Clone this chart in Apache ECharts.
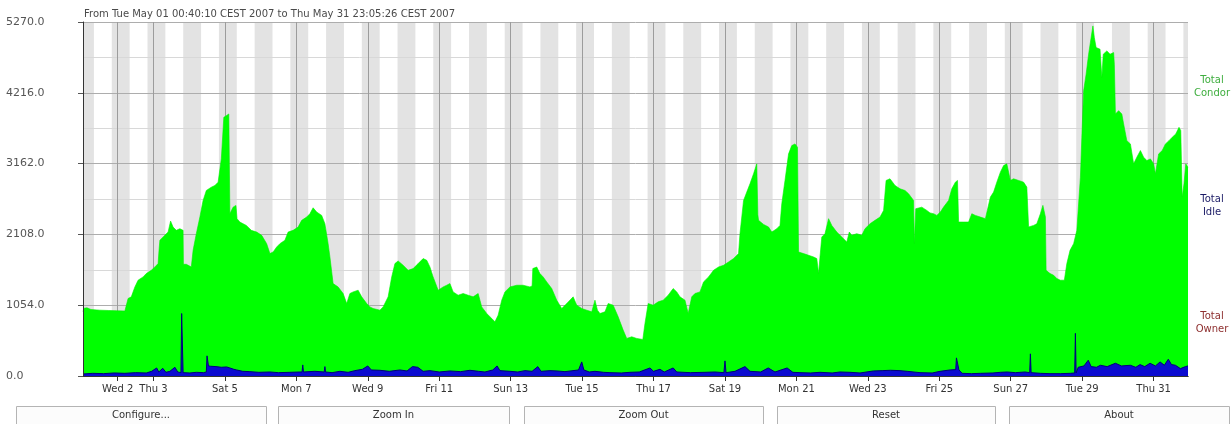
<!DOCTYPE html>
<html>
<head>
<meta charset="utf-8">
<script src="https://cdn.jsdelivr.net/npm/echarts@6/dist/echarts.min.js"></script>
<style>
html, body { margin: 0; padding: 0; background: #fff; }
#chart { width: 1232px; height: 424px; }
</style>
</head>
<body>
<div id="chart"></div>
<script>
// Time is expressed as fractional day of May 2007 (1.5 = May 1, 12:00).
const periodTitle = 'From Tue May 01 00:40:10 CEST 2007 to Thu May 31 23:05:26 CEST 2007';
const rangeStart = 1 + (40 * 60 + 10) / 86400;
const rangeEnd = 31 + (23 * 3600 + 5 * 60 + 26) / 86400;

const tickDays = [2, 3, 5, 7, 9, 11, 13, 15, 17, 19, 21, 23, 25, 27, 29, 31];
const tickLabels = ['Wed 2', 'Thu 3', 'Sat 5', 'Mon 7', 'Wed 9', 'Fri 11', 'Sun 13', 'Tue 15',
  'Thu 17', 'Sat 19', 'Mon 21', 'Wed 23', 'Fri 25', 'Sun 27', 'Tue 29', 'Thu 31'];

const yMax = 5270.0;
const yStep = 1054.0;

// Night hours shaded in the background (20:00 - 08:00)
const nightFromHour = 20;
const nightToHour = 8;

const legendNames = ['Total\nCondor', 'Total\nIdle', 'Total\nOwner'];
const buttonLabels = ['Configure...', 'Zoom In', 'Zoom Out', 'Reset', 'About'];

// Total Condor machines
const condor = [
  [1.028, 960], [1.06, 1010], [1.14, 1015], [1.25, 990], [1.50, 980], [1.75, 975], [1.96, 972],
  [2.20, 968], [2.25, 975], [2.29, 1154], [2.38, 1178], [2.48, 1326], [2.57, 1426], [2.71, 1475],
  [2.80, 1525], [2.94, 1574], [3.04, 1623], [3.13, 1673], [3.16, 1900], [3.18, 2020], [3.27, 2069],
  [3.41, 2143], [3.48, 2306], [3.55, 2217], [3.64, 2168], [3.74, 2193], [3.83, 2168], [3.84, 1663],
  [3.92, 1663], [4.06, 1623], [4.11, 1871], [4.20, 2119], [4.30, 2366], [4.39, 2614], [4.48, 2762],
  [4.62, 2811], [4.72, 2836], [4.81, 2885], [4.90, 3232], [4.97, 3851], [5.04, 3876], [5.11, 3901],
  [5.14, 2416], [5.23, 2514], [5.31, 2539], [5.34, 2342], [5.42, 2291], [5.60, 2242], [5.74, 2168],
  [5.89, 2143], [6.03, 2094], [6.17, 1970], [6.26, 1822], [6.35, 1847], [6.45, 1920], [6.54, 1970],
  [6.68, 2020], [6.77, 2143], [6.91, 2168], [7.05, 2217], [7.15, 2317], [7.29, 2366], [7.38, 2416],
  [7.47, 2504], [7.57, 2440], [7.71, 2391], [7.80, 2267], [7.89, 1970], [7.94, 1772], [8.03, 1376],
  [8.17, 1326], [8.31, 1228], [8.41, 1079], [8.50, 1228], [8.59, 1252], [8.73, 1277], [8.83, 1178],
  [8.97, 1079], [9.06, 1029], [9.15, 1005], [9.34, 980], [9.43, 1029], [9.57, 1178], [9.67, 1475],
  [9.76, 1673], [9.85, 1713], [9.99, 1648], [10.13, 1574], [10.27, 1599], [10.41, 1673], [10.55, 1748],
  [10.65, 1723], [10.74, 1623], [10.83, 1475], [10.97, 1277], [11.11, 1326], [11.21, 1351], [11.30, 1376],
  [11.39, 1252], [11.53, 1203], [11.67, 1228], [11.81, 1203], [11.95, 1178], [12.09, 1228], [12.19, 1029],
  [12.33, 930], [12.47, 857], [12.56, 806], [12.65, 906], [12.75, 1129], [12.84, 1252], [12.98, 1326],
  [13.17, 1351], [13.35, 1351], [13.54, 1326], [13.60, 1340], [13.62, 1599], [13.73, 1623], [13.82, 1525],
  [13.91, 1475], [14.01, 1401], [14.15, 1302], [14.29, 1129], [14.43, 1005], [14.57, 1079], [14.75, 1178],
  [14.85, 1054], [14.99, 1005], [15.13, 980], [15.27, 955], [15.36, 1129], [15.43, 980], [15.50, 930],
  [15.64, 955], [15.73, 1079], [15.87, 1054], [16.01, 881], [16.15, 683], [16.25, 559], [16.39, 584],
  [16.53, 559], [16.70, 544], [16.76, 782], [16.85, 1079], [16.99, 1054], [17.13, 1104], [17.27, 1129],
  [17.41, 1203], [17.55, 1302], [17.65, 1252], [17.74, 1178], [17.88, 1129], [17.97, 931], [18.07, 1178],
  [18.16, 1228], [18.30, 1252], [18.40, 1401], [18.54, 1475], [18.68, 1574], [18.82, 1623], [18.96, 1648],
  [19.10, 1698], [19.24, 1748], [19.38, 1822], [19.42, 2119], [19.52, 2614], [19.61, 2738], [19.70, 2862],
  [19.80, 3010], [19.89, 3158], [19.92, 2400], [19.94, 2317], [20.08, 2257], [20.22, 2218], [20.31, 2143],
  [20.45, 2193], [20.54, 2242], [20.59, 2564], [20.68, 2911], [20.78, 3307], [20.87, 3430], [20.96, 3455],
  [21.03, 3406], [21.06, 1846], [21.20, 1822], [21.34, 1797], [21.48, 1772], [21.57, 1748], [21.62, 1525],
  [21.66, 1772], [21.71, 2069], [21.80, 2119], [21.90, 2342], [21.99, 2242], [22.13, 2143], [22.27, 2069],
  [22.41, 1995], [22.48, 2143], [22.55, 2094], [22.69, 2119], [22.83, 2094], [22.92, 2193], [23.06, 2267],
  [23.20, 2317], [23.34, 2366], [23.44, 2465], [23.51, 2911], [23.62, 2936], [23.76, 2837], [23.90, 2787],
  [24.04, 2762], [24.14, 2713], [24.28, 2614], [24.30, 1970], [24.34, 2490], [24.51, 2514], [24.65, 2465],
  [24.74, 2428], [24.84, 2416], [24.93, 2391], [25.03, 2441], [25.12, 2515], [25.26, 2614], [25.35, 2787],
  [25.45, 2886], [25.51, 2911], [25.54, 2292], [25.68, 2292], [25.82, 2292], [25.91, 2416], [26.01, 2391],
  [26.15, 2366], [26.29, 2342], [26.43, 2663], [26.52, 2738], [26.61, 2886], [26.71, 3034], [26.80, 3133],
  [26.89, 3158], [26.99, 2911], [27.08, 2936], [27.22, 2911], [27.36, 2886], [27.45, 2812], [27.50, 2218],
  [27.64, 2242], [27.73, 2267], [27.83, 2416], [27.90, 2540], [27.97, 2366], [27.99, 1574], [28.10, 1525],
  [28.20, 1500], [28.29, 1450], [28.39, 1426], [28.50, 1426], [28.57, 1673], [28.66, 1871], [28.76, 1970],
  [28.85, 2168], [28.95, 2960], [28.99, 3554], [29.04, 4247], [29.11, 4494], [29.18, 4791], [29.25, 5038],
  [29.30, 5212], [29.34, 5038], [29.39, 4890], [29.50, 4865], [29.55, 4444], [29.59, 4791], [29.69, 4840],
  [29.78, 4791], [29.88, 4815], [29.90, 4642], [29.93, 3900], [30.02, 3950], [30.11, 3900], [30.16, 3752],
  [30.25, 3504], [30.35, 3455], [30.44, 3158], [30.53, 3257], [30.63, 3356], [30.72, 3257], [30.81, 3207],
  [30.91, 3232], [31.00, 3158], [31.05, 3009], [31.14, 3306], [31.24, 3356], [31.33, 3455], [31.43, 3504],
  [31.52, 3554], [31.62, 3603], [31.71, 3702], [31.76, 3653], [31.80, 2663], [31.85, 2861], [31.90, 3158],
  [31.962, 3108]
];

// Total Idle machines
const idle = [
  [1.028, 30], [1.30, 40], [1.60, 35], [1.90, 45], [2.20, 40], [2.50, 50], [2.80, 45], [2.95, 70],
  [3.09, 120], [3.15, 60], [3.26, 115], [3.35, 55], [3.46, 70], [3.60, 130], [3.68, 60], [3.77, 50],
  [3.79, 930], [3.81, 930], [3.83, 50], [4.02, 45], [4.20, 55], [4.40, 50], [4.48, 60], [4.50, 300],
  [4.52, 300], [4.54, 150], [4.60, 145], [4.75, 140], [4.90, 130], [5.05, 135], [5.14, 120], [5.25, 100],
  [5.33, 90], [5.50, 70], [5.70, 65], [5.95, 55], [6.26, 60], [6.50, 50], [6.82, 55], [7.10, 60],
  [7.16, 60], [7.18, 165], [7.20, 60], [7.52, 70], [7.78, 60], [7.80, 140], [7.82, 60], [8.00, 50],
  [8.22, 70], [8.45, 55], [8.64, 80], [8.85, 100], [9.00, 150], [9.10, 90], [9.34, 85], [9.60, 70],
  [9.90, 90], [10.10, 75], [10.25, 140], [10.40, 130], [10.55, 70], [10.74, 80], [11.00, 60], [11.30, 75],
  [11.60, 65], [11.86, 85], [12.10, 70], [12.28, 60], [12.50, 90], [12.62, 150], [12.70, 80], [12.98, 70],
  [13.20, 60], [13.40, 80], [13.60, 70], [13.76, 140], [13.85, 70], [14.10, 80], [14.30, 75], [14.52, 65],
  [14.90, 90], [14.99, 210], [15.05, 90], [15.20, 60], [15.36, 70], [15.60, 55], [15.78, 50], [16.10, 45],
  [16.34, 55], [16.60, 60], [16.90, 120], [17.00, 70], [17.18, 100], [17.30, 60], [17.55, 120], [17.65, 60],
  [18.03, 50], [18.44, 55], [18.72, 60], [18.97, 50], [19.00, 225], [19.03, 50], [19.28, 70], [19.56, 140],
  [19.70, 70], [20.00, 60], [20.21, 120], [20.40, 60], [20.74, 120], [20.90, 55], [21.10, 50], [21.40, 45],
  [21.66, 55], [22.00, 45], [22.22, 60], [22.50, 55], [22.78, 45], [23.15, 75], [23.40, 80], [23.63, 85],
  [23.90, 80], [24.10, 70], [24.46, 50], [24.80, 45], [25.02, 70], [25.30, 90], [25.46, 95], [25.48, 270],
  [25.53, 280], [25.55, 90], [25.64, 40], [25.90, 35], [26.15, 40], [26.50, 45], [26.71, 55], [26.90, 60],
  [27.13, 50], [27.40, 60], [27.53, 50], [27.55, 330], [27.57, 50], [27.83, 40], [28.10, 35], [28.40, 35],
  [28.67, 40], [28.79, 45], [28.81, 635], [28.83, 45], [28.89, 130], [29.05, 150], [29.17, 235], [29.25, 140],
  [29.40, 130], [29.51, 160], [29.70, 140], [29.93, 190], [30.10, 150], [30.35, 160], [30.50, 130], [30.62, 170],
  [30.75, 140], [30.90, 190], [31.05, 150], [31.18, 210], [31.30, 160], [31.41, 250], [31.50, 170], [31.61, 160],
  [31.75, 110], [31.89, 140], [31.962, 150]
];

const FONT = 'DejaVu Sans';

// Background night bands
const nightBands = [];
for (let d = 0; d <= 31; d++) {
  const a = Math.max(rangeStart, d + nightFromHour / 24);
  const b = Math.min(rangeEnd, d + 1 + nightToHour / 24);
  if (b > a) nightBands.push([{ xAxis: a }, { xAxis: b }]);
}

const chart = echarts.init(document.getElementById('chart'), null, { renderer: 'canvas' });

const xBase = { type: 'value', min: rangeStart, max: rangeEnd, gridIndex: 0 };
const yBase = { type: 'value', min: 0, max: yMax, interval: yStep, gridIndex: 0 };

// Buttons under the chart
const buttonSpans = [[16, 266], [278, 509], [524, 763], [777, 995], [1009, 1229]];
const graphics = [
  {
    type: 'text', left: 84, top: 9, silent: true,
    style: { text: periodTitle, font: '10px "' + FONT + '"', fill: '#4a4a4a' }
  }
];
const legendColors = ['#3fae3f', '#1c1c66', '#8e2f2f'];
const legendY = [74, 193, 310];
legendNames.forEach((name, i) => {
  graphics.push({
    type: 'text', x: 1212, y: legendY[i], silent: true,
    style: { text: name, font: '10px "' + FONT + '"', fill: legendColors[i], align: 'center', lineHeight: 13 }
  });
});
buttonLabels.forEach((label, i) => {
  const [l, r] = buttonSpans[i];
  graphics.push({
    type: 'rect', silent: true,
    shape: { x: l + 0.5, y: 406.5, width: r - l, height: 20 },
    style: { fill: '#fcfcfc', stroke: '#b4b4b4', lineWidth: 1 }
  });
  graphics.push({
    type: 'text', x: (l + r) / 2, y: 410, silent: true,
    style: { text: label, font: '10px "' + FONT + '"', fill: '#333', align: 'center' }
  });
});

chart.setOption({
  animation: false,
  backgroundColor: '#fff',
  textStyle: { fontFamily: FONT },
  grid: { left: 83, right: 44, top: 22, bottom: 48, containLabel: false },
  xAxis: [
    Object.assign({}, xBase, {
      position: 'bottom', z: 10,
      axisLine: { show: true, lineStyle: { color: '#333', width: 1 } },
      axisTick: { show: true, length: 5, lineStyle: { color: '#333' }, customValues: tickDays },
      axisLabel: {
        show: true, margin: 8, fontSize: 10, color: '#333', fontFamily: FONT,
        customValues: tickDays,
        formatter: v => tickLabels[tickDays.indexOf(Math.round(v))] || ''
      },
      splitLine: { show: false }
    }),
    Object.assign({}, xBase, {
      position: 'top', z: 10,
      axisLine: { show: true, lineStyle: { color: '#333', width: 1 } },
      axisTick: { show: false }, axisLabel: { show: false }, splitLine: { show: false }
    })
  ],
  yAxis: [
    Object.assign({}, yBase, {
      position: 'left', z: 10,
      axisLine: { show: true, lineStyle: { color: '#333', width: 1 } },
      axisTick: { show: true, length: 5, lineStyle: { color: '#555' } },
      axisLabel: {
        show: true, align: 'left', margin: 77, fontSize: 11, color: '#555', fontFamily: FONT,
        formatter: v => v.toFixed(1)
      },
      splitLine: { show: false }
    }),
    Object.assign({}, yBase, {
      position: 'right', z: 1,
      axisLine: { show: false }, axisTick: { show: false }, axisLabel: { show: false },
      splitLine: { show: true, lineStyle: { color: '#adadad', width: 1 } },
      minorTick: { show: false, splitNumber: 2 },
      minorSplitLine: { show: true, lineStyle: { color: '#d8d8d8', width: 1 } }
    })
  ],
  graphic: graphics,
  series: [
    {
      name: 'night', type: 'line', xAxisIndex: 0, yAxisIndex: 0, z: 0, silent: true,
      data: [[rangeStart, 0]], symbol: 'none', lineStyle: { opacity: 0 },
      markArea: { z: 0, silent: true, itemStyle: { color: '#e3e3e3' }, data: nightBands }
    },
    {
      name: 'days', type: 'line', xAxisIndex: 0, yAxisIndex: 0, z: 1, silent: true,
      data: [[rangeStart, 0]], symbol: 'none', lineStyle: { opacity: 0 },
      markLine: {
        z: 1, silent: true, symbol: ['none', 'none'], label: { show: false },
        lineStyle: { color: '#9c9c9c', width: 1, type: 'solid' },
        data: tickDays.map(d => ({ xAxis: d }))
      }
    },
    {
      name: 'Total Condor', type: 'line', xAxisIndex: 0, yAxisIndex: 0, z: 3,
      data: condor, symbol: 'none', showSymbol: false,
      lineStyle: { width: 0.6, color: '#00f000' },
      areaStyle: { color: '#00ff00', opacity: 1 }
    },
    {
      name: 'Total Idle', type: 'line', xAxisIndex: 0, yAxisIndex: 0, z: 4,
      data: idle, symbol: 'none', showSymbol: false,
      lineStyle: { width: 1, color: '#00007a' },
      areaStyle: { color: '#0b0bd0', opacity: 1 }
    }
  ]
});
</script>
</body>
</html>
